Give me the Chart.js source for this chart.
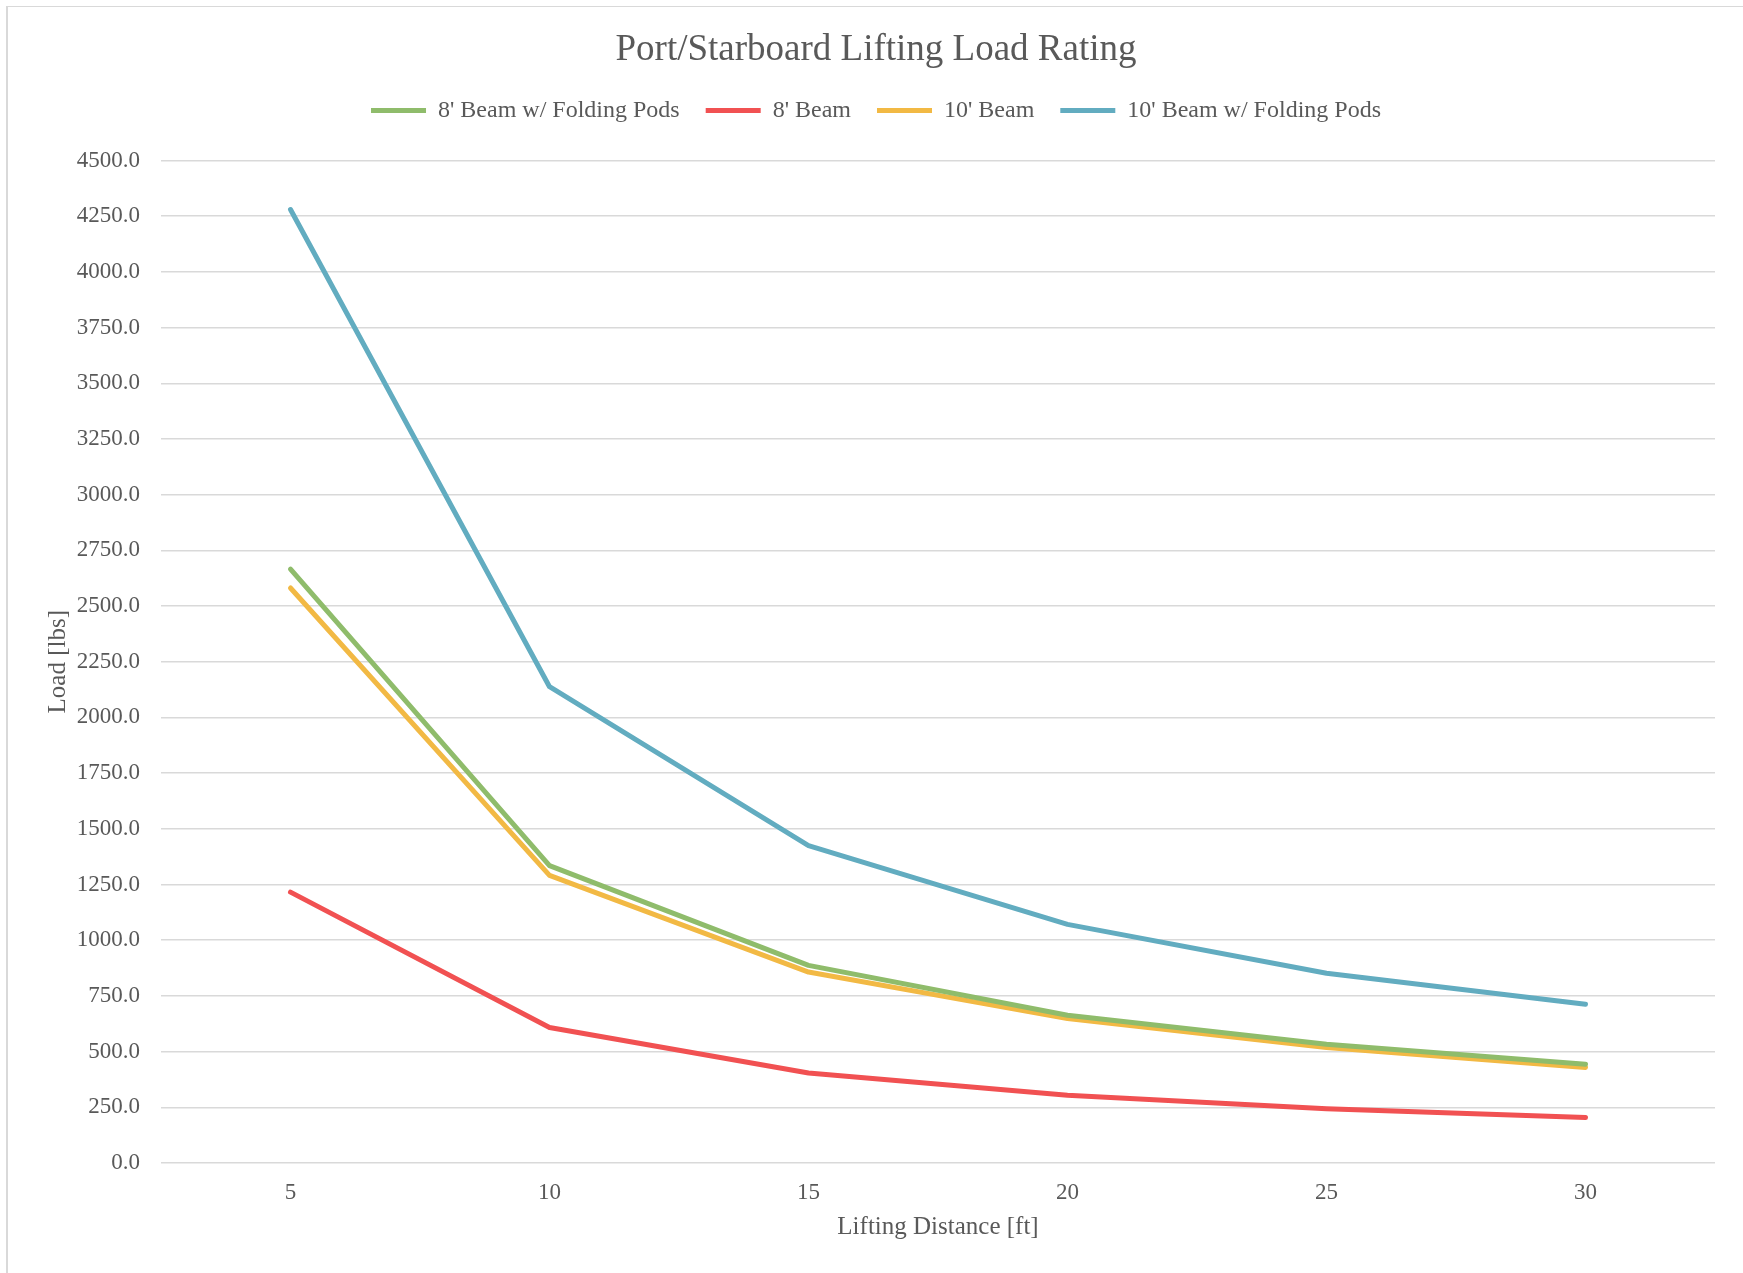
<!DOCTYPE html>
<html>
<head>
<meta charset="utf-8">
<title>Port/Starboard Lifting Load Rating</title>
<script src="https://cdn.jsdelivr.net/npm/chart.js@4.4.1/dist/chart.umd.min.js"></script>
<style>
  html, body { margin: 0; padding: 0; background: #fff; overflow: hidden; }
  #frame {
    position: absolute; left: 6px; top: 6px; width: 1800px; height: 1300px;
    border-left: 2px solid #d9d9d9; border-top: 1px solid #d9d9d9;
  }
  #chart { position: absolute; left: 0; top: 0; }
</style>
</head>
<body>
<div id="frame"></div>
<canvas id="chart" width="1743" height="1273"></canvas>
<script>
// values
const distances = ['5', '10', '15', '20', '25', '30'];
const beam8Pods = [2666, 1335, 887, 663, 533, 443];
const beam8 = [1216, 608, 404, 304, 244, 204];
const beam10 = [2581, 1291, 857, 648, 518, 429];
const beam10Pods = [4280, 2138, 1425, 1071, 852, 713];

const textColor = '#595959';
const gridColor = '#d9d9d9';
const serif = "'Liberation Serif', 'DejaVu Serif', serif";

function series(label, data, color) {
  return {
    label: label,
    data: data,
    borderColor: color,
    backgroundColor: color,
    borderWidth: 5,
    borderCapStyle: 'round',
    borderJoinStyle: 'round',
    pointRadius: 0,
    pointHoverRadius: 0,
    pointStyle: 'line',
    tension: 0,
    fill: false
  };
}

// extra room between the legend and the plot area
const legendGap = {
  id: 'legendGap',
  beforeInit(chart) {
    const fit = chart.legend.fit;
    chart.legend.fit = function () {
      fit.bind(chart.legend)();
      this.height += 28;
    };
  }
};

const ctx = document.getElementById('chart').getContext('2d');
new Chart(ctx, {
  type: 'line',
  data: {
    labels: distances,
    datasets: [
      series("8' Beam w/ Folding Pods", beam8Pods, '#8fbc6b'),
      series("8' Beam", beam8, '#f15152'),
      series("10' Beam", beam10, '#f2b944'),
      series("10' Beam w/ Folding Pods", beam10Pods, '#62acc0')
    ]
  },
  plugins: [legendGap],
  options: {
    responsive: false,
    animation: false,
    layout: { padding: { left: 37, right: 28, top: 0, bottom: 0 } },
    plugins: {
      title: {
        display: true,
        text: 'Port/Starboard Lifting Load Rating',
        color: textColor,
        font: { family: serif, size: 37, weight: 'normal', lineHeight: 0.5 },
        padding: { top: 41, bottom: 13 }
      },
      legend: {
        display: true,
        position: 'top',
        labels: {
          color: textColor,
          font: { family: serif, size: 24 },
          usePointStyle: true,
          pointStyle: 'line',
          pointStyleWidth: 55,
          boxHeight: 24,
          padding: 26
        }
      },
      tooltip: { enabled: false }
    },
    scales: {
      x: {
        offset: true,
        grid: { display: false, drawTicks: false },
        border: { display: false },
        ticks: {
          color: textColor,
          font: { family: serif, size: 23 },
          padding: 16
        },
        title: {
          display: true,
          text: 'Lifting Distance [ft]',
          color: textColor,
          font: { family: serif, size: 25 },
          padding: { top: 0, bottom: 31 }
        },
        afterFit(scale) { scale.height = 110; }
      },
      y: {
        min: 0,
        max: 4500,
        grid: { color: gridColor, lineWidth: 1.5, drawTicks: false },
        border: { display: false },
        ticks: {
          stepSize: 250,
          color: textColor,
          font: { family: serif, size: 23 },
          padding: 21,
          callback: (v) => v.toFixed(1)
        },
        title: {
          display: true,
          text: 'Load [lbs]',
          color: textColor,
          font: { family: serif, size: 25 },
          padding: { top: 6, bottom: 0 }
        },
        afterFit(scale) { scale.width = 124; }
      }
    }
  }
});
</script>
</body>
</html>
